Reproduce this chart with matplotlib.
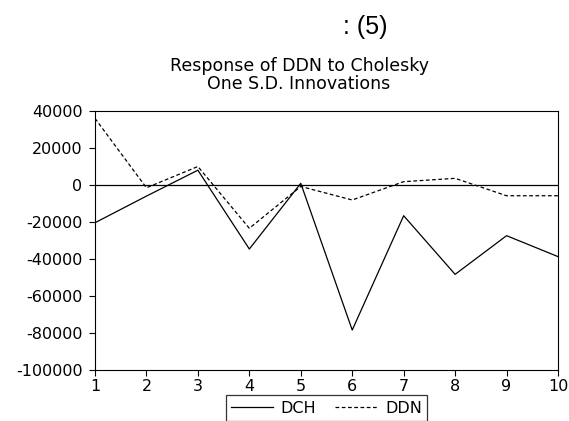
import matplotlib
matplotlib.use("Agg")
import matplotlib.pyplot as plt
import numpy as np

# Impulse response values
periods = [1, 2, 3, 4, 5, 6, 7, 8, 9, 10]
dch = [-20400, -6000, 8000, -34600, 900, -78400, -16600, -48300, -27400, -38700]
ddn = [36000, -1500, 10000, -23400, -800, -8100, 1800, 3600, -5800, -5800]
y_ticks = [40000, 20000, 0, -20000, -40000, -60000, -80000, -100000]

# wider face to match the horizontally stretched text of the original
plt.rcParams['font.family'] = ['DejaVu Sans']

fig = plt.figure(figsize=(5.69, 4.21), dpi=100)
ax = fig.add_axes([95 / 569, 1 - 370 / 421, (558 - 95) / 569, (370 - 111) / 421])

ax.plot(periods, dch, color='black', lw=0.9, label='DCH')
ax.plot(periods, ddn, color='black', lw=0.9, ls=(0, (3, 2)), label='DDN')
ax.axhline(0, color='black', lw=0.9)

ax.set_xlim(1, 10)
ax.set_ylim(-100000, 40000)
ax.set_xticks(periods)
ax.set_yticks(y_ticks)
ax.set_yticklabels([str(v) for v in y_ticks])
ax.tick_params(direction='out', length=4, width=0.8, labelsize=11.5)
ax.tick_params(axis='y', pad=5)
ax.tick_params(axis='x', pad=2.5)
for sp in ax.spines.values():
    sp.set_linewidth(0.8)

fig.text(299 / 569, 1 - 66 / 421, "Response of DDN to Cholesky", fontsize=12.5,
         ha='center', va='center')
fig.text(299 / 569, 1 - 84 / 421, "One S.D. Innovations", fontsize=12.5,
         ha='center', va='center')

leg = ax.legend(loc='upper center', bbox_to_anchor=(0.5, -(395 - 370) / 259), ncol=2,
                frameon=True, fancybox=False, edgecolor='black', fontsize=11.5,
                handlelength=2.6, columnspacing=1.2, borderpad=0.35,
                handletextpad=0.5, borderaxespad=0)
leg.get_frame().set_linewidth(0.9)

fig.text(365 / 569, 1 - 27 / 421, ": (5)", fontsize=18, ha='center', va='center',
         family=['Liberation Sans Narrow', 'Liberation Sans', 'DejaVu Sans'])

fig.savefig("out.png", dpi=100)
